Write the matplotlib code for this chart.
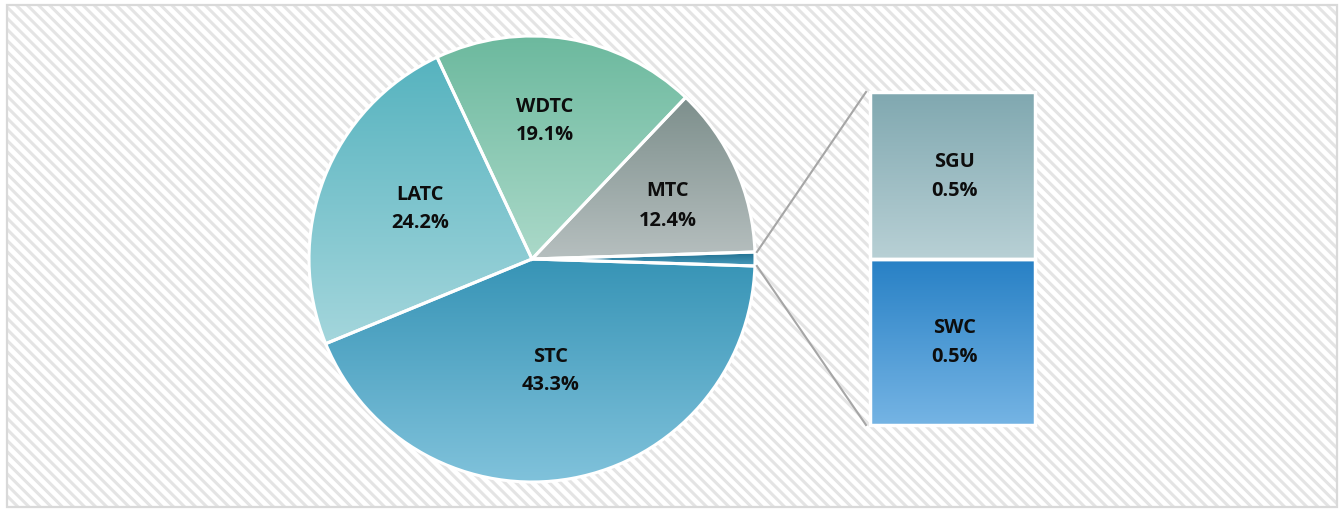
import numpy as np
import matplotlib
matplotlib.use("Agg")
import matplotlib.pyplot as plt
from matplotlib.patches import Rectangle
from matplotlib.colors import LinearSegmentedColormap

# ---- data ----
pie_labels = ["Other", "STC", "LATC", "WDTC", "MTC"]
pie_values = [1.0, 43.3, 24.2, 19.1, 12.4]
bar_labels = ["SWC", "SGU"]          # bottom to top
bar_values = [0.5, 0.5]

# gradient colours (top, bottom)
pie_colors = {
    "Other": ("#1d6c8c", "#4a9cbd"),
    "STC": ("#3794b6", "#80c2db"),
    "LATC": ("#56b3bf", "#a4d6dc"),
    "WDTC": ("#6cb99e", "#abd9c9"),
    "MTC": ("#7d8f8c", "#b6bfbf"),
}
bar_colors = {
    "SGU": ("#80a8b0", "#b8d0d5"),
    "SWC": ("#2780c5", "#75b4e4"),
}

W, H = 1341, 510
plt.rcParams['hatch.color'] = '#e4e4e4'
plt.rcParams['hatch.linewidth'] = 2.2
plt.rcParams['font.family'] = ['Open Sans', 'DejaVu Sans']

fig = plt.figure(figsize=(W / 100, H / 100), dpi=100)
ax = fig.add_axes([0, 0, 1, 1])
ax.set_axis_off()

# background with hatch
bg = Rectangle((7, 2), 1330, 502, facecolor='white', edgecolor='#e4e4e4',
               hatch='\\\\\\', linewidth=0, zorder=0)
ax.add_patch(bg)
ax.add_patch(Rectangle((7, 2), 1330, 502, facecolor='none', edgecolor='#d9d9d9',
                       linewidth=1.6, zorder=10))

cx, cy, R = 532, 250, 223
start = 360 * pie_values[0] / 100 / 2
wedges, _ = ax.pie(pie_values, center=(cx, cy), radius=R, startangle=start,
                   counterclock=False, wedgeprops=dict(edgecolor='white', linewidth=2.2))

grad = np.linspace(0, 1, 256).reshape(-1, 1)
for w, lab in zip(wedges, pie_labels):
    c1, c2 = pie_colors[lab]
    cmap = LinearSegmentedColormap.from_list(lab, [c1, c2])
    bb = w.get_path().get_extents()
    im = ax.imshow(grad, cmap=cmap, extent=[bb.x0, bb.x1, bb.y0, bb.y1],
                   origin='upper', aspect='auto', zorder=1, interpolation='bilinear')
    im.set_clip_path(w)
    w.set_facecolor('none')
    w.set_zorder(2)

text_kw = dict(ha='center', va='center', fontsize=14.4, fontweight='bold',
               linespacing=1.6, color='#0d0d0d', zorder=5)

# pie labels
label_pos = {"STC": (551, 139), "LATC": (420, 301), "WDTC": (545, 389), "MTC": (668, 304)}
for lab, val in zip(pie_labels, pie_values):
    if lab in label_pos:
        x, y = label_pos[lab]
        ax.text(x, y, f"{lab}\n{val:.1f}%", **text_kw)

# bar of pie
bx0, bw = 870, 165
by0, by1 = 84, 417
scale = (by1 - by0) / sum(bar_values)
bottom = by0
for lab, val in zip(bar_labels, bar_values):
    h = val * scale
    ax.bar(bx0 + bw / 2, h, width=bw, bottom=bottom, color='none',
           edgecolor='white', linewidth=2.5, zorder=2)
    c1, c2 = bar_colors[lab]
    cmap = LinearSegmentedColormap.from_list(lab, [c1, c2])
    ax.imshow(grad, cmap=cmap, extent=[bx0, bx0 + bw, bottom, bottom + h],
              origin='upper', aspect='auto', zorder=1, interpolation='bilinear')
    ax.text(bx0 + bw / 2 + 2, bottom + h / 2, f"{lab}\n{val:.1f}%", **text_kw)
    bottom += h

# connector lines
a = np.deg2rad(start)
ax.plot([cx + R * np.cos(a) + 2, bx0 - 4], [cy + R * np.sin(a), by1], color='#a6a6a6', lw=1.5, zorder=3)
ax.plot([cx + R * np.cos(a) + 2, bx0 - 4], [cy - R * np.sin(a), by0], color='#a6a6a6', lw=1.5, zorder=3)

ax.set_xlim(0, W)
ax.set_ylim(0, H)
ax.set_aspect('auto')
fig.savefig("out.png", dpi=100)
